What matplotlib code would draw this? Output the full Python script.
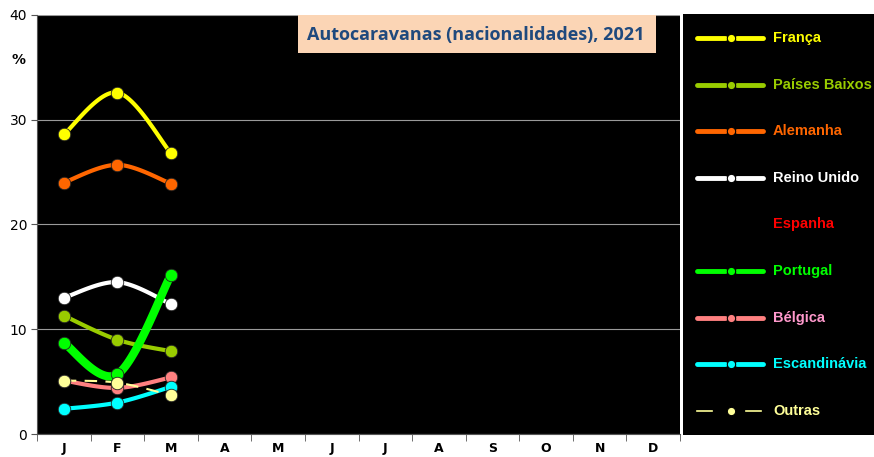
import numpy as np
from matplotlib import pyplot as plt
from matplotlib.patches import Rectangle

months = ["J", "F", "M", "A", "M", "J", "J", "A", "S", "O", "N", "D"]
series_names = [
    "França",
    "Países Baixos",
    "Alemanha",
    "Reino Unido",
    "Espanha",
    "Portugal",
    "Bélgica",
    "Escandinávia",
    "Outras",
]
franca = [28.6, 32.6, 26.8]
paises_baixos = [11.3, 9.0, 7.9]
alemanha = [24.0, 25.7, 23.9]
reino_unido = [13.0, 14.5, 12.4]
espanha = []
portugal = [8.7, 5.7, 15.2]
belgica = [5.1, 4.4, 5.4]
escandinavia = [2.4, 3.0, 4.5]
outras = [5.1, 4.9, 3.7]
values = [franca, paises_baixos, alemanha, reino_unido, espanha,
          portugal, belgica, escandinavia, outras]

line_colors = ["#FFFF00", "#99CC00", "#FF6600", "#FFFFFF", "#FF0000",
               "#00FF00", "#FF8080", "#00FFFF", "#FFFF99"]
text_colors = ["#FFFF00", "#99CC00", "#FF6600", "#FFFFFF", "#FF0000",
               "#00FF00", "#FF99CC", "#00FFFF", "#FFFF99"]
widths = [3, 3, 3, 3, 3, 6, 3, 3, 1.5]
styles = ["-", "-", "-", "-", "-", "-", "-", "-", (0, (6, 4))]

W, H = 874, 457


def smooth(x, y, n=30):
    # Excel-style smoothed line: Bezier segments with Catmull-Rom controls
    p = np.column_stack([x, y]).astype(float)
    if len(p) < 2:
        return p[:, 0], p[:, 1]
    ext = np.vstack([p[0], p, p[-1]])
    out = []
    t = np.linspace(0, 1, n)[:, None]
    for i in range(len(p) - 1):
        p0, p1, p2, p3 = ext[i], ext[i + 1], ext[i + 2], ext[i + 3]
        c1 = p1 + (p2 - p0) / 6
        c2 = p2 - (p3 - p1) / 6
        seg = ((1 - t) ** 3 * p1 + 3 * (1 - t) ** 2 * t * c1
               + 3 * (1 - t) * t ** 2 * c2 + t ** 3 * p2)
        out.append(seg if i == 0 else seg[1:])
    out = np.vstack(out)
    return out[:, 0], out[:, 1]


fig = plt.figure(figsize=(W / 100, H / 100), dpi=100)
ax = fig.add_axes([37 / W, (H - 434) / H, (680 - 37) / W, (434 - 15) / H])
ax.set_facecolor("black")

for vals, lc, lw, ls in zip(values, line_colors, widths, styles):
    if not vals:
        continue
    x = np.arange(len(vals))
    sx, sy = smooth(x, vals)
    ax.plot(sx, sy, color=lc, lw=lw, linestyle=ls, solid_capstyle="round", zorder=3)
    ax.plot(x, vals, "o", color=lc, ms=9, mec="#222222", mew=0.6, zorder=4)

ax.set_xlim(-0.5, 11.5)
ax.set_ylim(0, 40)
ax.set_yticks([0, 10, 20, 30, 40])
ax.grid(axis="y", color="#9a9a9a", lw=0.8)
ax.set_axisbelow(True)
ax.set_xticks(range(12))
ax.set_xticklabels(months, fontweight="bold", fontsize=9)
ax.set_xticks(np.arange(-0.5, 12, 1), minor=True)
ax.tick_params(axis="x", which="major", length=0, pad=6)
ax.tick_params(axis="x", which="minor", length=5, color="#555555", direction="out")
ax.tick_params(axis="y", length=4, color="#555555", labelsize=10, pad=3)
for s in ["top", "right"]:
    ax.spines[s].set_visible(False)
ax.spines["left"].set_color("#555555")
ax.spines["bottom"].set_color("#555555")
fig.text(18 / W, 1 - 60 / H, "%", fontweight="bold", fontsize=10, ha="center", va="center")

# title box
fig.patches.append(Rectangle((298 / W, 1 - 53 / H), (656 - 298) / W, (53 - 15) / H,
                             transform=fig.transFigure, facecolor="#FBD5B5",
                             edgecolor="none", zorder=5))
fig.text(476 / W, 1 - 35 / H, "Autocaravanas (nacionalidades), 2021",
         fontfamily="Open Sans", fontweight="bold", fontsize=13,
         color="#1F497D", ha="center", va="center", zorder=6)

# legend panel
lax = fig.add_axes([683 / W, (H - 435) / H, (W - 683) / W, (435 - 14) / H])
lax.set_facecolor("black")
lax.set_xlim(683, W)
lax.set_ylim(435, 14)
lax.set_xticks([])
lax.set_yticks([])
for s in lax.spines.values():
    s.set_visible(False)
for i, (name, lc, tc, ls) in enumerate(zip(series_names, line_colors, text_colors, styles)):
    y = 38 + i * 46.6
    if values[i]:
        if i == 8:
            lax.plot([697, 712], [y, y], color=lc, lw=1.2)
            lax.plot([746, 761], [y, y], color=lc, lw=1.2)
        else:
            lax.plot([697, 725], [y, y], color=lc, lw=3.5, solid_capstyle="round")
            lax.plot([737, 763], [y, y], color=lc, lw=3.5, solid_capstyle="round")
        lax.plot([731], [y], "o", color=lc, ms=6, mec="black", mew=0.8)
    lax.text(773, y, name, color=tc, fontweight="bold", fontsize=10.5,
             fontfamily="Liberation Sans", va="center")

fig.savefig("out.png", dpi=100, facecolor="white")
